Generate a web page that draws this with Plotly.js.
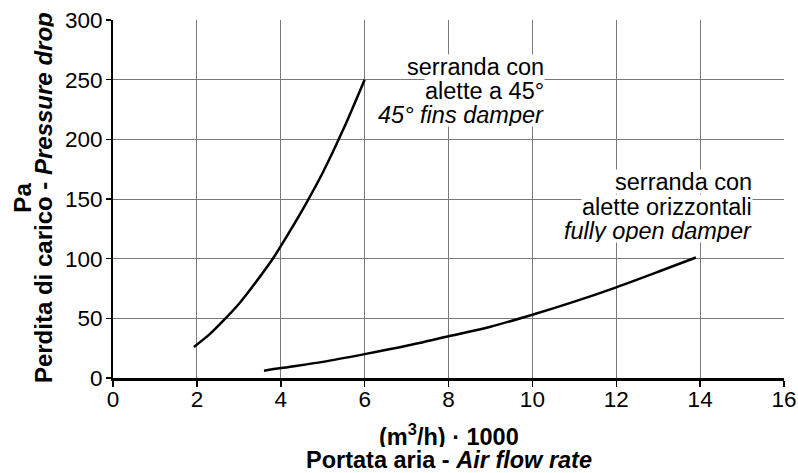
<!DOCTYPE html>
<html><head><meta charset="utf-8">
<script src="https://cdn.plot.ly/plotly-3.0.1.min.js"></script>
<style>html,body{margin:0;padding:0;background:#fff}</style>
</head><body>
<div id="chart" style="width:798px;height:473px"></div>
<script>
// 45° fins damper
const finsX = [1.93, 2.3, 2.63, 3.0, 3.4, 3.83, 4.2, 4.6, 5.0, 5.5, 6.0];
const finsY = [26, 36.5, 48, 62, 80, 101, 122, 146, 172, 209, 250];
// fully open damper
const openX = [3.6, 4, 5, 6, 7, 8, 9, 10, 11, 12, 13, 13.9];
const openY = [6, 8.3, 13.5, 20, 27, 35, 43, 53, 64, 76, 89, 101];
const xTicks = [0, 2, 4, 6, 8, 10, 12, 14, 16];
const yTicks = [0, 50, 100, 150, 200, 250, 300];
const label45 = ['serranda con', 'alette a 45°', '<i>45° fins damper</i>'];
const labelOpen = ['serranda con', 'alette orizzontali', '<i>fully open damper</i>'];
const xTitle = ['<b>(m<sup>3</sup>/h) · 1000</b>', '<b>Portata aria - <i>Air flow rate</i></b>'];
const yTitle = ['<b>Pa</b>', '<b>Perdita di carico - <i>Pressure drop</i></b>'];

const F = "Liberation Sans, Arial, Helvetica, sans-serif";
const traces = [
  {x: finsX, y: finsY, mode: 'lines', line: {color: '#000', width: 2.5, shape: 'spline', smoothing: 0.8}, hoverinfo: 'skip'},
  {x: openX, y: openY, mode: 'lines', line: {color: '#000', width: 2.5, shape: 'spline', smoothing: 0.8}, hoverinfo: 'skip'}
];

const ann = [];
// axis titles
const xTitleY = [-0.16, -0.229];
xTitle.forEach((t, i) => ann.push({xref: 'paper', yref: 'paper', x: 0.5, y: xTitleY[i], xanchor: 'center', yanchor: 'middle',
  text: t, showarrow: false, height: 24, font: {family: F, size: 23.5}}));
const yTitleX = [-0.135, -0.103];
yTitle.forEach((t, i) => ann.push({xref: 'paper', yref: 'paper', x: yTitleX[i], y: 0.505, xanchor: 'center', yanchor: 'middle', textangle: -90,
  text: t, showarrow: false, height: 20, font: {family: F, size: 24}}));
// curve labels (one annotation per line for tight line spacing)
const l45y = [260.7, 241.2, 220.5];
label45.forEach((t, i) => ann.push({xref: 'x', yref: 'y', x: 10.3, y: l45y[i], xanchor: 'right', yanchor: 'middle',
  text: t, showarrow: false, bgcolor: '#fff', borderpad: 0, height: 23, font: {family: F, size: 23.5}}));
const lOpy = [164.3, 143.8, 123.6];
labelOpen.forEach((t, i) => ann.push({xref: 'x', yref: 'y', x: 15.26, y: lOpy[i], xanchor: 'right', yanchor: 'middle',
  text: t, showarrow: false, bgcolor: '#fff', borderpad: 0, height: 23, font: {family: F, size: 23.5}}));

const layout = {
  width: 798, height: 473,
  margin: {l: 113, r: 14, t: 20, b: 95},
  paper_bgcolor: '#fff', plot_bgcolor: '#fff',
  showlegend: false,
  font: {family: F, size: 22, color: '#000'},
  xaxis: {range: [0, 16], tickvals: xTicks, ticktext: xTicks.map(String),
    showgrid: true, gridcolor: '#7a7a7a', gridwidth: 1, zeroline: false,
    showline: true, linecolor: '#000', linewidth: 3,
    ticks: 'outside', ticklen: 6, tickwidth: 1.5, tickcolor: '#000',
    ticklabelstandoff: -7,
    tickfont: {family: F, size: 22.5}},
  yaxis: {range: [0, 300], tickvals: yTicks, ticktext: yTicks.map(String),
    showgrid: true, gridcolor: '#7a7a7a', gridwidth: 1, zeroline: false,
    showline: true, linecolor: '#000', linewidth: 2,
    ticks: 'outside', ticklen: 5, tickwidth: 1.5, tickcolor: '#000',
    ticklabelstandoff: -1,
    tickfont: {family: F, size: 22.5}},
  annotations: ann
};
Plotly.newPlot('chart', traces, layout, {staticPlot: true, displayModeBar: false});
</script>
</body></html>
